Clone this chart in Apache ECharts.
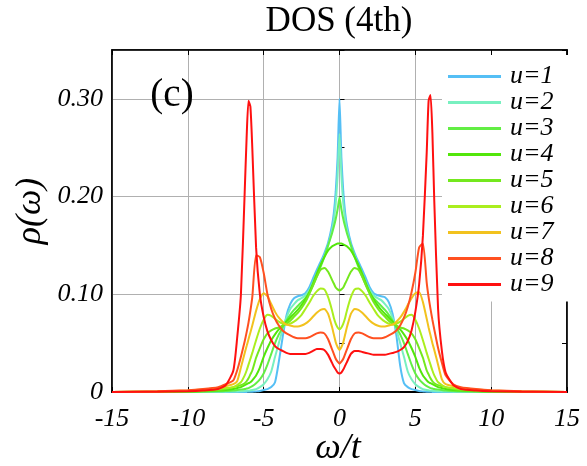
<!DOCTYPE html>
<html><head><meta charset="utf-8">
<script src="https://cdn.jsdelivr.net/npm/echarts@6/dist/echarts.min.js"></script>
<style>html,body{margin:0;padding:0;background:#fff}#c{width:587px;height:466px}</style>
</head><body><div id="c"></div>
<script>
// omega grid (shared by all curves)
const omega = [-15,-12,-10,-9,-8,-7.5,-7,-6.75,-6.5,-6.25,-6.125,-6,-5.875,-5.75,-5.5,-5.25,-5,-4.75,-4.5,-4.25,-4,-3.75,-3.5,-3.25,-3,-2.75,-2.5,-2.25,-2,-1.75,-1.5,-1.25,-1,-0.75,-0.5,-0.375,-0.25,-0.125,0,
  0.125,0.25,0.375,0.5,0.75,1,1.25,1.5,1.75,2,2.25,2.5,2.75,3,3.25,3.5,3.75,4,4.25,4.5,4.75,5,5.25,5.5,5.75,5.875,6,6.125,6.25,6.5,6.75,7,7.5,8,9,10,12,15];

const rho_u1 = [0,0,0,0,0,0,0,0,0,0.0001,0.0001,0.0002,0.0002,0.0003,0.0006,0.001,0.002,0.003,0.005,0.010,0.031,0.056,0.078,0.090,0.096,0.098,0.099,0.101,0.107,0.116,0.125,0.133,0.142,0.153,0.170,0.183,0.205,0.240,0.300,
  0.240,0.205,0.183,0.170,0.153,0.142,0.133,0.125,0.116,0.107,0.101,0.099,0.098,0.097,0.092,0.080,0.058,0.027,0.009,0.005,0.003,0.002,0.001,0.0006,0.0003,0.0002,0.0002,0.0001,0.0001,0,0,0,0,0,0,0,0,0];
const rho_u2 = [0,0,0,0.0001,0.0002,0.0003,0.0005,0.0006,0.0008,0.001,0.0012,0.0014,0.0017,0.002,0.003,0.005,0.008,0.013,0.021,0.036,0.050,0.064,0.076,0.085,0.090,0.094,0.096,0.099,0.104,0.112,0.121,0.130,0.139,0.150,0.165,0.176,0.193,0.222,0.264,
  0.222,0.193,0.176,0.165,0.150,0.139,0.130,0.121,0.112,0.104,0.099,0.096,0.094,0.090,0.085,0.076,0.064,0.050,0.036,0.021,0.013,0.008,0.005,0.003,0.002,0.0017,0.0014,0.0012,0.001,0.0008,0.0006,0.0005,0.0003,0.0002,0.0001,0,0,0];
const rho_u3 = [0,0.0001,0.0002,0.0004,0.0007,0.001,0.0015,0.002,0.0025,0.003,0.0035,0.004,0.005,0.006,0.009,0.013,0.019,0.028,0.039,0.050,0.059,0.066,0.073,0.079,0.084,0.088,0.092,0.096,0.101,0.109,0.118,0.128,0.138,0.150,0.162,0.169,0.177,0.187,0.199,
  0.187,0.177,0.169,0.162,0.150,0.138,0.128,0.118,0.109,0.101,0.096,0.092,0.088,0.084,0.079,0.073,0.066,0.059,0.050,0.039,0.028,0.019,0.013,0.009,0.006,0.005,0.004,0.0035,0.003,0.0025,0.002,0.0015,0.001,0.0007,0.0004,0.0002,0.0001,0];
const rho_u4 = [0,0.0002,0.0005,0.0008,0.0015,0.002,0.003,0.004,0.005,0.007,0.008,0.009,0.010,0.012,0.017,0.025,0.036,0.045,0.053,0.059,0.064,0.068,0.072,0.076,0.080,0.084,0.089,0.095,0.102,0.111,0.121,0.130,0.138,0.145,0.149,0.150,0.151,0.152,0.152,
  0.152,0.151,0.150,0.149,0.145,0.138,0.130,0.121,0.111,0.102,0.095,0.089,0.084,0.080,0.076,0.072,0.068,0.064,0.059,0.053,0.045,0.036,0.025,0.017,0.012,0.010,0.009,0.008,0.007,0.005,0.004,0.003,0.002,0.0015,0.0008,0.0005,0.0002,0];
const rho_u5 = [0,0.0003,0.0007,0.0012,0.002,0.003,0.005,0.006,0.007,0.009,0.011,0.014,0.018,0.022,0.035,0.045,0.054,0.060,0.063,0.065,0.066,0.068,0.070,0.073,0.077,0.081,0.086,0.092,0.100,0.109,0.118,0.125,0.127,0.123,0.115,0.111,0.107,0.105,0.104,
  0.105,0.107,0.111,0.115,0.123,0.127,0.125,0.118,0.109,0.100,0.092,0.086,0.081,0.077,0.073,0.070,0.068,0.066,0.065,0.063,0.060,0.054,0.045,0.035,0.022,0.018,0.014,0.011,0.009,0.007,0.006,0.005,0.003,0.002,0.0012,0.0007,0.0003,0];
const rho_u6 = [0,0.0005,0.001,0.0018,0.003,0.004,0.005,0.007,0.010,0.017,0.022,0.028,0.034,0.040,0.053,0.065,0.074,0.079,0.078,0.075,0.072,0.070,0.069,0.070,0.072,0.075,0.079,0.085,0.091,0.098,0.103,0.106,0.105,0.097,0.084,0.076,0.070,0.066,0.064,
  0.066,0.070,0.076,0.084,0.097,0.105,0.106,0.103,0.098,0.091,0.085,0.079,0.075,0.072,0.070,0.069,0.070,0.072,0.075,0.078,0.079,0.074,0.065,0.053,0.040,0.034,0.028,0.022,0.017,0.010,0.007,0.005,0.004,0.003,0.0018,0.001,0.0005,0];
const rho_u7 = [0,0.0006,0.0015,0.0025,0.004,0.006,0.008,0.011,0.025,0.040,0.047,0.054,0.061,0.068,0.083,0.095,0.101,0.098,0.090,0.082,0.076,0.072,0.069,0.068,0.067,0.067,0.068,0.070,0.073,0.077,0.081,0.084,0.085,0.080,0.067,0.059,0.051,0.046,0.043,
  0.046,0.051,0.059,0.067,0.080,0.085,0.084,0.081,0.077,0.073,0.070,0.068,0.067,0.067,0.068,0.069,0.072,0.076,0.082,0.089,0.096,0.101,0.102,0.092,0.075,0.066,0.058,0.050,0.043,0.028,0.013,0.008,0.006,0.004,0.0025,0.0015,0.0006,0];
const rho_u8 = [0,0.0007,0.0018,0.003,0.005,0.008,0.012,0.022,0.036,0.052,0.061,0.071,0.083,0.097,0.140,0.138,0.122,0.100,0.085,0.075,0.068,0.063,0.060,0.058,0.056,0.055,0.055,0.055,0.056,0.058,0.060,0.061,0.060,0.054,0.044,0.039,0.034,0.031,0.029,
  0.031,0.034,0.039,0.044,0.054,0.060,0.061,0.060,0.058,0.056,0.055,0.055,0.055,0.056,0.058,0.060,0.063,0.068,0.076,0.087,0.102,0.122,0.148,0.152,0.112,0.097,0.085,0.074,0.064,0.045,0.030,0.017,0.008,0.005,0.003,0.0018,0.0007,0];
const rho_u9 = [0,0.0003,0.0008,0.0015,0.003,0.007,0.022,0.055,0.100,0.205,0.260,0.298,0.292,0.250,0.148,0.100,0.077,0.062,0.053,0.047,0.044,0.042,0.040,0.039,0.039,0.039,0.039,0.039,0.040,0.042,0.044,0.044,0.043,0.038,0.030,0.026,0.023,0.020,0.019,
  0.020,0.023,0.027,0.031,0.039,0.042,0.042,0.041,0.040,0.039,0.038,0.038,0.038,0.038,0.039,0.040,0.041,0.043,0.046,0.052,0.063,0.082,0.110,0.160,0.245,0.298,0.304,0.265,0.195,0.085,0.042,0.020,0.007,0.003,0.0015,0.0008,0.0003,0];

const seriesNames = ['u=1','u=2','u=3','u=4','u=5','u=6','u=7','u=8','u=9'];
const seriesValues = [rho_u1,rho_u2,rho_u3,rho_u4,rho_u5,rho_u6,rho_u7,rho_u8,rho_u9];
const seriesColors = ['#55bff5','#78f0c0','#62ee44','#52e60a','#74e81e','#aaee1e','#f2c21e','#ff5020','#ff1010'];
const yLabelValues = [0, 0.1, 0.2, 0.3];
const yLabelTexts = ['0','0.10','0.20','0.30'];

const FONT = 'Liberation Serif';
const chart = echarts.init(document.getElementById('c'), null, {renderer:'canvas'});

const gridLineStyle = {color:'#b0b0b0', width:1};
const option = {
  backgroundColor:'#fff',
  animation:false,
  grid:{left:112, right:20, top:50, bottom:74, show:true, borderColor:'#000', borderWidth:1.5, outerBoundsMode:'none'},
  xAxis:[
    {type:'value', min:-15, max:15, interval:5, position:'bottom',
     axisLine:{show:true, onZero:false, lineStyle:{color:'#000', width:2}},
     axisTick:{show:true, inside:true, length:5, lineStyle:{color:'#000'}},
     splitLine:{show:true, lineStyle:gridLineStyle},
     axisLabel:{fontFamily:FONT, fontStyle:'italic', fontSize:26, color:'#000', margin:14}},
    {type:'value', min:-15, max:15, interval:5, position:'top',
     axisLine:{show:true, onZero:false, lineStyle:{color:'#000', width:1.5}},
     axisTick:{show:true, inside:true, length:5, lineStyle:{color:'#000'}},
     splitLine:{show:false}, axisLabel:{show:false}}
  ],
  yAxis:[
    {type:'value', min:0, max:0.35, interval:0.1, position:'left',
     axisLine:{show:true, onZero:false, lineStyle:{color:'#000', width:1.5}},
     axisTick:{show:false},
     splitLine:{show:true, lineStyle:gridLineStyle},
     axisLabel:{fontFamily:FONT, fontStyle:'italic', fontSize:26, color:'#000', margin:9,
       formatter:function(v){ for(let i=0;i<yLabelValues.length;i++){ if(Math.abs(v-yLabelValues[i])<1e-9) return yLabelTexts[i]; } return ''; }}},
    {type:'value', min:0, max:0.35, interval:0.05, position:'left',
     axisLine:{show:false}, axisTick:{show:true, inside:true, length:5, lineStyle:{color:'#000'}},
     splitLine:{show:false}, axisLabel:{show:false}},
    {type:'value', min:0, max:0.35, interval:0.05, position:'right',
     axisLine:{show:true, onZero:false, lineStyle:{color:'#000', width:1.5}},
     axisTick:{show:true, inside:true, length:5, lineStyle:{color:'#000'}},
     splitLine:{show:false}, axisLabel:{show:false}}
  ],
  legend:{
    show:true, orient:'vertical', left:442, top:55,
    backgroundColor:'#fff', padding:[8.6,15,4,6],
    itemWidth:53, itemHeight:3, itemGap:0, icon:'rect',
    data:seriesNames,
    textStyle:{fontFamily:FONT, fontStyle:'italic', fontSize:26, color:'#000', lineHeight:20.8, padding:[0,0,0,4]}
  },
  series: seriesNames.map(function(name, k){
    return {
      name:name, type:'line', xAxisIndex:0, yAxisIndex:0,
      data: omega.map(function(w,i){ return [w, seriesValues[k][i]]; }),
      showSymbol:false, symbol:'none', smooth:0.2,
      lineStyle:{color:seriesColors[k], width:2},
      itemStyle:{color:seriesColors[k]},
      clip:true, z:3
    };
  }),
  graphic:[
    {type:'text', x:339, y:22, style:{text:'DOS (4th)', font:'normal 35px Liberation Serif', fill:'#000', textAlign:'center', textVerticalAlign:'middle'}},
    {type:'text', x:172, y:96, z:10, style:{text:'(c)', font:'normal 39px Liberation Serif', fill:'#000', textAlign:'center', textVerticalAlign:'middle'}},
    {type:'text', x:31, y:211, rotation:Math.PI/2, style:{text:'ρ(ω)', font:'italic 36px Liberation Serif', fill:'#000', textAlign:'center', textVerticalAlign:'middle'}},
    {type:'text', x:338, y:449, style:{text:'ω/t', font:'italic 36px Liberation Serif', fill:'#000', textAlign:'center', textVerticalAlign:'middle'}}
  ]
};
chart.setOption(option);
</script></body></html>
